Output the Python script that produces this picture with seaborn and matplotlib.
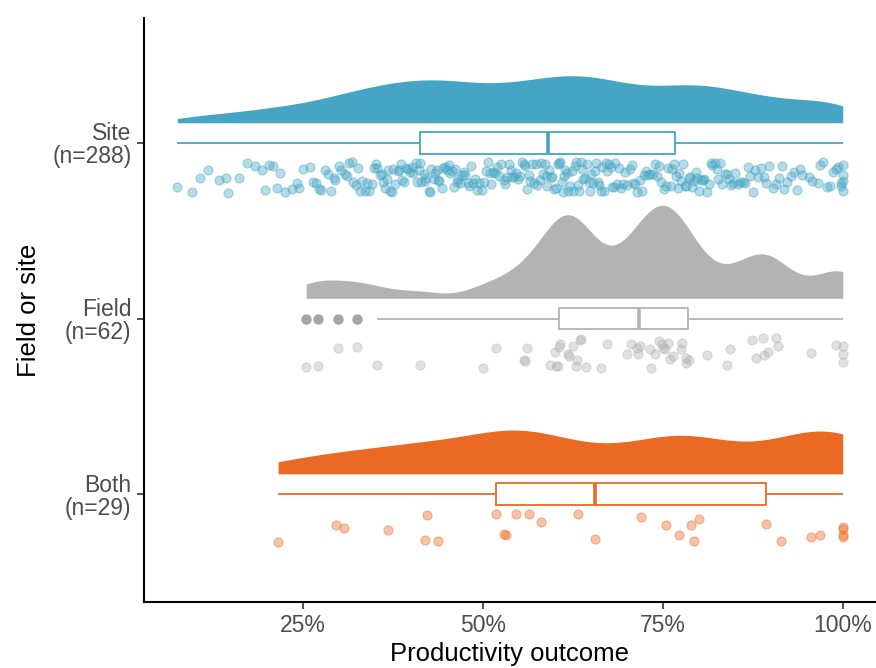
import numpy as np
import matplotlib
matplotlib.use("Agg")
import matplotlib.pyplot as plt
import matplotlib.colors as mcolors
import seaborn as sns

# ---- data -------------------------------------------------------------
groups = ["Site", "Field", "Both"]
group_colors = ["#46A5C4", "#B3B3B3", "#EB6A23"]
x_ticks = [25, 50, 75, 100]
x_tick_labels = ["25%", "50%", "75%", "100%"]

site_values = [
    7.6, 9.7, 10.7, 11.8, 13.4, 14.4, 14.6, 16.2, 17.3, 18.4,
    19.4, 19.8, 20.3, 20.9, 21.4, 21.8, 22.6, 23.5, 24.2, 24.5, 25.1, 26.0,
    26.4, 26.9, 27.3, 27.6, 28.1, 28.5,
    28.9, 29.3, 29.5, 30.0, 30.4, 30.9, 31.1,
    31.4, 31.8, 32.0, 32.4, 32.7, 33.0, 33.3, 33.6,
    33.9, 34.2, 34.6, 34.9, 35.2, 35.4, 35.8, 36.0, 36.1,
    36.4, 36.7, 36.9, 37.1, 37.4, 37.6, 37.9, 38.2, 38.4, 38.6,
    38.8, 39.1, 39.3, 39.6, 39.9, 40.2, 40.4, 40.7, 40.9, 41.2,
    41.3, 41.5, 41.8, 42.0, 42.2, 42.5, 42.7, 42.9, 43.2, 43.4, 43.6,
    43.8, 44.0, 44.3, 44.5, 44.8, 45.0, 45.3, 45.5, 45.7, 46.0, 46.2,
    46.4, 46.6, 46.9, 47.1, 47.4, 47.6, 47.9, 48.1, 48.4, 48.6,
    48.9, 49.2, 49.5, 49.9, 50.2, 50.4, 50.7, 51.0, 51.2,
    51.5, 51.7, 52.0, 52.3, 52.6, 52.9, 53.1, 53.4, 53.6,
    53.9, 54.1, 54.4, 54.6, 54.9, 55.2, 55.4, 55.7, 55.9, 56.1,
    56.4, 56.6, 56.9, 57.1, 57.4, 57.6, 57.9, 58.1, 58.4, 58.6,
    58.8, 59.0, 59.2, 59.5, 59.7, 59.9, 60.2, 60.4, 60.6, 60.8, 61.0, 61.1,
    61.3, 61.5, 61.7, 61.9, 62.1, 62.4, 62.6, 62.8, 63.0, 63.2, 63.4, 63.6,
    63.8, 64.0, 64.2, 64.5, 64.7, 64.9, 65.1, 65.3, 65.6, 65.8, 66.0, 66.2,
    66.4, 66.6, 66.8, 67.1, 67.3, 67.5, 67.8, 68.0, 68.2, 68.4, 68.7,
    68.9, 69.2, 69.5, 69.8, 70.1, 70.4, 70.7, 70.9, 71.2,
    71.5, 71.8, 72.1, 72.4, 72.7, 73.0, 73.3, 73.6,
    73.9, 74.2, 74.5, 74.8, 75.2, 75.5, 75.8, 76.1,
    76.3, 76.6, 76.8, 77.1, 77.3, 77.6, 77.8, 78.1, 78.3, 78.6,
    78.8, 79.1, 79.3, 79.6, 79.8, 80.1, 80.3, 80.6, 80.8, 81.1,
    81.4, 81.7, 81.9, 82.2, 82.5, 82.7, 83.0, 83.3, 83.6,
    83.9, 84.2, 84.5, 84.8, 85.1, 85.5, 85.8, 86.1,
    86.4, 86.8, 87.1, 87.5, 87.8, 88.2, 88.6,
    89.0, 89.4, 89.8, 90.3, 90.7, 91.1,
    91.5, 91.9, 92.3, 92.8, 93.2, 93.6,
    94.0, 94.4, 95.3, 95.7, 96.5, 96.9,
    97.3, 97.8, 98.2, 98.6, 99.0, 99.4,
    99.7, 99.8, 100.0, 100.0, 100.0, 100.0,
]

field_values = [
    25.5, 27.1, 29.9, 32.5, 35.3, 41.3, 50.0, 51.9, 55.8, 55.9, 56.2, 59.3,
    60.0, 60.2, 60.4, 60.6, 60.8, 61.8, 62.0, 62.5, 63.0, 63.1, 63.5, 63.6, 64.3,
    66.4, 67.3, 70.0, 70.6, 71.5, 71.6, 71.9, 73.2, 73.4, 74.0,
    74.5, 74.9, 75.0, 75.3, 75.7, 76.0, 76.4,
    77.5, 77.7, 78.2, 78.3, 78.6,
    81.2, 83.9, 84.4, 87.4, 88.0, 88.9, 89.0, 89.6, 90.8, 91.0,
    95.6, 99.1, 100.0, 100.0, 100.0,
]

both_values = [
    21.6, 29.6, 30.7, 36.8, 42.0, 42.3, 43.8, 51.8, 53.0, 53.2, 54.7, 56.5, 58.1,
    63.2, 65.6, 72.0, 75.4, 77.2, 79.0, 79.3, 80.0, 89.3, 91.4, 95.6, 96.8,
    100.0, 100.0, 100.0, 100.0,
]

group_values = [site_values, field_values, both_values]
group_pos = [3, 2, 1]


def nrd0(v):
    """Silverman's rule-of-thumb bandwidth (R's bw.nrd0)."""
    v = np.asarray(v, float)
    sd = v.std(ddof=1)
    q75, q25 = np.percentile(v, [75, 25])
    return 0.9 * min(sd, (q75 - q25) / 1.34) * len(v) ** -0.2


def gaussian_kde(v, grid, bw):
    v = np.asarray(v, float)
    z = (grid[:, None] - v[None, :]) / bw
    return np.exp(-0.5 * z ** 2).sum(axis=1) / (len(v) * bw * np.sqrt(2 * np.pi))


def darker(color, factor=0.92):
    r, g, b = mcolors.to_rgb(color)
    return (r * factor, g * factor, b * factor)


# ---- figure -----------------------------------------------------------
sns.set_style("white")
plt.rcParams["font.family"] = ["Liberation Sans", "DejaVu Sans"]

fig = plt.figure(figsize=(8.76, 6.68), dpi=100)
ax = fig.add_axes([144 / 876, 66 / 668, 732 / 876, 584 / 668])

cloud_offset = 0.115   # base of the half-violin above each row
cloud_height = 0.53    # tallest density across all rows
rain_offset = -0.195   # centre of the jittered points below each row
bw_adjust = 0.6

# half-violins (area-scaled densities, trimmed to data range)
curves = []
for vals in group_values:
    v = np.asarray(vals, float)
    grid = np.linspace(v.min(), v.max(), 512)
    curves.append((grid, gaussian_kde(v, grid, bw_adjust * nrd0(v))))
dens_max = max(d.max() for _, d in curves)
for (grid, dens), pos, col in zip(curves, group_pos, group_colors):
    base = pos + cloud_offset
    ax.fill_between(grid, base, base + cloud_height * dens / dens_max,
                    color=col, linewidth=0, zorder=1)

# boxplots
for vals, pos, col in zip(group_values, group_pos, group_colors):
    sns.boxplot(x=vals, y=np.full(len(vals), pos), orient="h",
                native_scale=True, width=0.125, color=col, fill=False,
                linewidth=1.3, showcaps=False, whis=1.5, fliersize=6.5,
                flierprops=dict(marker="o", markerfacecolor=darker(col),
                                markeredgecolor=darker(col), alpha=1.0),
                medianprops=dict(linewidth=2.6, color=col), ax=ax)

# jittered raw points
np.random.seed(11)
for vals, pos, col in zip(group_values, group_pos, group_colors):
    sns.stripplot(x=vals, y=np.full(len(vals), pos + rain_offset), orient="h",
                  native_scale=True, jitter=0.09, color=col, alpha=0.4,
                  size=6.5, linewidth=0.9, edgecolor=col, ax=ax, zorder=3)

# ---- axes styling -----------------------------------------------------
ax.set_xlim(2.98, 104.62)
ax.set_ylim(0.385, 3.712)
ax.set_xticks(x_ticks)
ax.set_xticklabels(x_tick_labels)
ax.set_yticks(group_pos)
ax.set_yticklabels([f"{g}\n(n={len(v)})" for g, v in zip(groups, group_values)],
                   multialignment="right", linespacing=1.0)

for side in ("top", "right"):
    ax.spines[side].set_visible(False)
for side in ("left", "bottom"):
    ax.spines[side].set_color("black")
    ax.spines[side].set_linewidth(1.5)

ax.tick_params(axis="both", length=5, width=1.2, color="#333333",
               labelcolor="#4D4D4D", labelsize=16.5, pad=4,
               left=True, bottom=True)
ax.set_xlabel("Productivity outcome", fontsize=18.5, color="black", labelpad=3)
ax.set_ylabel("Field or site", fontsize=18.5, color="black", labelpad=8)
ax.grid(False)

fig.savefig("out.png", dpi=100)
